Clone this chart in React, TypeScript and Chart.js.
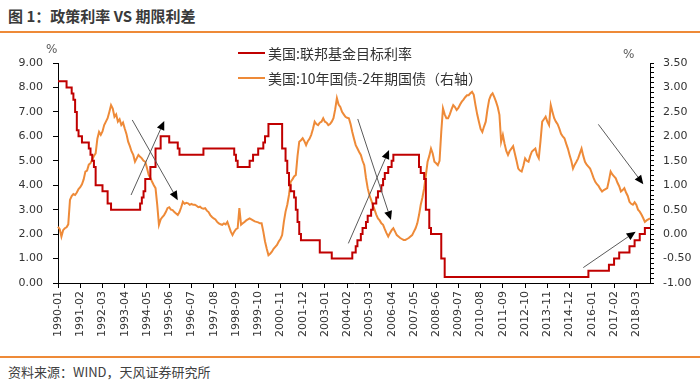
import React, { useEffect, useRef } from 'react';
import { Chart, registerables } from 'chart.js';

Chart.register(...registerables);

const titleText = '图 1：政策利率 VS 期限利差';
const sourceText = '资料来源：WIND，天风证券研究所';
const seriesNames = ['美国:联邦基金目标利率', '美国:10年国债-2年期国债（右轴）'];
const seriesColors = ['#C00000', '#EE8A38'];
const accentColor = '#EE8A38';
const startYear = 1990;
const labelStep = 13;

// US federal funds target rate (%), monthly 1990-01 .. 2018-11 (left axis)
const fedFunds = [
  8.25, 8.25, 8.25, 8.25, 8.25, 8.25, 8.0, 8.0, 8.0, 7.75, 7.5, 7.0,
  6.25, 6.0, 6.0, 5.75, 5.75, 5.75, 5.75, 5.5, 5.25, 5.0, 4.75, 4.0,
  4.0, 4.0, 4.0, 3.75, 3.75, 3.75, 3.25, 3.25, 3.0, 3.0, 3.0, 3.0,
  3.0, 3.0, 3.0, 3.0, 3.0, 3.0, 3.0, 3.0, 3.0, 3.0, 3.0, 3.0,
  3.0, 3.25, 3.5, 3.75, 4.25, 4.25, 4.25, 4.75, 4.75, 4.75, 5.5, 5.5,
  5.5, 6.0, 6.0, 6.0, 6.0, 6.0, 5.75, 5.75, 5.75, 5.75, 5.75, 5.5,
  5.25, 5.25, 5.25, 5.25, 5.25, 5.25, 5.25, 5.25, 5.25, 5.25, 5.25, 5.25,
  5.25, 5.25, 5.5, 5.5, 5.5, 5.5, 5.5, 5.5, 5.5, 5.5, 5.5, 5.5,
  5.5, 5.5, 5.5, 5.5, 5.5, 5.5, 5.5, 5.5, 5.25, 5.0, 4.75, 4.75,
  4.75, 4.75, 4.75, 4.75, 4.75, 5.0, 5.0, 5.25, 5.25, 5.25, 5.5, 5.5,
  5.5, 5.75, 6.0, 6.0, 6.5, 6.5, 6.5, 6.5, 6.5, 6.5, 6.5, 6.5,
  5.5, 5.5, 5.0, 4.5, 4.0, 3.75, 3.75, 3.5, 3.0, 2.5, 2.0, 1.75,
  1.75, 1.75, 1.75, 1.75, 1.75, 1.75, 1.75, 1.75, 1.75, 1.75, 1.25, 1.25,
  1.25, 1.25, 1.25, 1.25, 1.25, 1.0, 1.0, 1.0, 1.0, 1.0, 1.0, 1.0,
  1.0, 1.0, 1.0, 1.0, 1.0, 1.25, 1.25, 1.5, 1.75, 1.75, 2.0, 2.25,
  2.25, 2.5, 2.75, 2.75, 3.0, 3.25, 3.25, 3.5, 3.75, 3.75, 4.0, 4.25,
  4.5, 4.5, 4.75, 4.75, 5.0, 5.25, 5.25, 5.25, 5.25, 5.25, 5.25, 5.25,
  5.25, 5.25, 5.25, 5.25, 5.25, 5.25, 5.25, 5.25, 4.75, 4.5, 4.5, 4.25,
  3.0, 3.0, 2.25, 2.0, 2.0, 2.0, 2.0, 2.0, 2.0, 1.0, 1.0, 0.25,
  0.25, 0.25, 0.25, 0.25, 0.25, 0.25, 0.25, 0.25, 0.25, 0.25, 0.25, 0.25,
  0.25, 0.25, 0.25, 0.25, 0.25, 0.25, 0.25, 0.25, 0.25, 0.25, 0.25, 0.25,
  0.25, 0.25, 0.25, 0.25, 0.25, 0.25, 0.25, 0.25, 0.25, 0.25, 0.25, 0.25,
  0.25, 0.25, 0.25, 0.25, 0.25, 0.25, 0.25, 0.25, 0.25, 0.25, 0.25, 0.25,
  0.25, 0.25, 0.25, 0.25, 0.25, 0.25, 0.25, 0.25, 0.25, 0.25, 0.25, 0.25,
  0.25, 0.25, 0.25, 0.25, 0.25, 0.25, 0.25, 0.25, 0.25, 0.25, 0.25, 0.25,
  0.25, 0.25, 0.25, 0.25, 0.25, 0.25, 0.25, 0.25, 0.25, 0.25, 0.25, 0.5,
  0.5, 0.5, 0.5, 0.5, 0.5, 0.5, 0.5, 0.5, 0.5, 0.5, 0.5, 0.75,
  0.75, 0.75, 1.0, 1.0, 1.0, 1.25, 1.25, 1.25, 1.25, 1.25, 1.25, 1.5,
  1.5, 1.5, 1.75, 1.75, 1.75, 2.0, 2.0, 2.0, 2.25, 2.25, 2.25,
];

// US 10Y minus 2Y treasury yield spread (%), monthly 1990-01 .. 2018-11 (right axis)
const termSpread = [
  0.15, 0.1, -0.05, 0.08, 0.12, 0.14, 0.2, 0.7, 0.78, 0.82, 0.8, 0.85,
  0.92, 0.96, 1.02, 1.12, 1.28, 1.3, 1.42, 1.45, 1.52, 1.6, 1.65, 1.95,
  2.09, 2.03, 2.1, 2.23, 2.3, 2.37, 2.5, 2.64, 2.57, 2.4, 2.45, 2.3,
  2.35, 2.23, 2.28, 2.16, 2.05, 1.89, 1.8, 1.69, 1.62, 1.48, 1.55, 1.62,
  1.58, 1.55, 1.5, 1.48, 1.35, 1.21, 1.15, 1.07, 1.0, 0.94, 0.6, 0.19,
  0.3, 0.35, 0.39, 0.45, 0.53, 0.55, 0.5, 0.49, 0.45, 0.42, 0.39, 0.45,
  0.55, 0.66, 0.62, 0.64, 0.63, 0.6, 0.62, 0.6, 0.6, 0.58, 0.55, 0.56,
  0.53, 0.52, 0.53, 0.48, 0.45, 0.39, 0.35, 0.32, 0.3, 0.25, 0.22, 0.2,
  0.19, 0.22, 0.2, 0.25, 0.15, 0.05, -0.02, 0.05, 0.1, 0.12, 0.53, 0.19,
  0.22, 0.25, 0.28, 0.3, 0.32, 0.3, 0.28, 0.26, 0.25, 0.24, 0.22, 0.22,
  0.05, -0.15, -0.3, -0.43, -0.4, -0.36, -0.3, -0.26, -0.22, -0.15, -0.1, -0.02,
  0.25, 0.46, 0.6, 0.8, 1.07, 1.12, 1.18, 1.21, 1.6, 1.89, 1.92, 1.96,
  1.9, 1.82, 1.9, 1.95, 2.03, 2.15, 2.3, 2.25, 2.23, 2.28, 2.3, 2.37,
  2.3, 2.28, 2.23, 2.25, 2.3, 2.37, 2.55, 2.78, 2.65, 2.6, 2.5, 2.45,
  2.4, 2.38, 2.37, 2.25, 2.09, 1.95, 1.82, 1.75, 1.68, 1.62, 1.5, 1.41,
  1.15, 0.94, 0.8, 0.7, 0.6, 0.5, 0.4, 0.32, 0.28, 0.22, 0.19, 0.1,
  0.02, -0.05, 0.02, 0.08, 0.12, 0.05, -0.02, -0.05, -0.08, -0.1, -0.12, -0.12,
  -0.1, -0.08, -0.05, -0.02, 0.05, 0.12, 0.22, 0.39, 0.6, 0.75, 0.94, 1.2,
  1.48, 1.6, 1.75, 1.65, 1.48, 1.45, 1.41, 1.5, 2.09, 2.57, 2.45, 2.37,
  2.37, 2.45, 2.55, 2.64, 2.6, 2.54, 2.58, 2.65, 2.71, 2.75, 2.8, 2.84,
  2.84, 2.88, 2.91, 2.85, 2.64, 2.45, 2.3, 2.15, 2.09, 2.2, 2.3, 2.55,
  2.75, 2.84, 2.88, 2.8, 2.71, 2.6, 2.44, 1.89, 2.03, 1.85, 1.7, 1.62,
  1.7, 1.75, 1.8, 1.65, 1.5, 1.34, 1.3, 1.28, 1.4, 1.55, 1.5, 1.48,
  1.6, 1.69, 1.72, 1.75, 1.62, 1.55, 1.9, 2.3, 2.35, 2.4, 2.3, 2.23,
  2.64, 2.5, 2.37, 2.3, 2.25, 2.16, 2.05, 2.0, 1.96, 1.85, 1.75, 1.62,
  1.5, 1.34, 1.42, 1.48, 1.55, 1.65, 1.75, 1.6, 1.48, 1.42, 1.38, 1.34,
  1.25, 1.15, 1.07, 1.02, 0.98, 0.92, 0.87, 0.9, 0.92, 0.94, 1.1, 1.28,
  1.22, 1.18, 1.14, 1.05, 0.98, 0.87, 0.9, 0.94, 0.85, 0.78, 0.66, 0.62,
  0.6, 0.65, 0.6, 0.5, 0.46, 0.4, 0.33, 0.25, 0.28, 0.3, 0.32,
];

// annotation arrows: [month index, left-axis value]
const arrowTails = [[42.7, 3.6], [43.4, 6.67], [169.7, 1.62], [175.2, 6.71], [307, 0.63], [315.8, 6.49]];
const arrowHeads = [[62.1, 6.63], [70.0, 3.39], [193.5, 5.44], [194.6, 2.58], [337.6, 2.1], [342.1, 4.04]];

const monthLabels = fedFunds.map((_, i) => `${startYear + Math.floor(i / 12)}-${String((i % 12) + 1).padStart(2, '0')}`);

const tickFont = { family: '"DejaVu Sans", sans-serif', size: 11 };
const cjk = '"Noto Sans CJK SC", "Noto Sans", sans-serif';

const arrowPlugin = {
  id: 'arrows',
  afterDatasetsDraw(chart: any) {
    const { ctx } = chart;
    const xs = chart.scales.x;
    const ys = chart.scales.y;
    ctx.save();
    arrowTails.forEach((t, i) => {
      const h = arrowHeads[i];
      const x0 = xs.getPixelForValue(t[0]);
      const y0 = ys.getPixelForValue(t[1]);
      const x1 = xs.getPixelForValue(h[0]);
      const y1 = ys.getPixelForValue(h[1]);
      const ang = Math.atan2(y1 - y0, x1 - x0);
      const len = 9;
      const w = 4;
      const bx = x1 - len * Math.cos(ang);
      const by = y1 - len * Math.sin(ang);
      ctx.strokeStyle = '#5a5a5a';
      ctx.lineWidth = 1;
      ctx.beginPath();
      ctx.moveTo(x0, y0);
      ctx.lineTo(bx, by);
      ctx.stroke();
      ctx.fillStyle = '#000';
      ctx.beginPath();
      ctx.moveTo(x1, y1);
      ctx.lineTo(bx + w * Math.sin(ang), by - w * Math.cos(ang));
      ctx.lineTo(bx - w * Math.sin(ang), by + w * Math.cos(ang));
      ctx.closePath();
      ctx.fill();
    });
    ctx.restore();
  },
};

export default function App() {
  const canvasRef = useRef<HTMLCanvasElement | null>(null);

  useEffect(() => {
    if (!canvasRef.current) return;
    const chart = new Chart(canvasRef.current, {
      type: 'line',
      data: {
        labels: monthLabels,
        datasets: [
          {
            label: seriesNames[0],
            data: fedFunds,
            borderColor: seriesColors[0],
            backgroundColor: seriesColors[0],
            borderWidth: 2,
            pointRadius: 0,
            stepped: 'after',
            yAxisID: 'y',
          },
          {
            label: seriesNames[1],
            data: termSpread,
            borderColor: seriesColors[1],
            backgroundColor: seriesColors[1],
            borderWidth: 2,
            pointRadius: 0,
            tension: 0,
            yAxisID: 'y1',
          },
        ],
      },
      options: {
        animation: false,
        responsive: false,
        maintainAspectRatio: false,
        layout: { padding: { top: 23, left: 0, right: 0, bottom: 0 } },
        plugins: { legend: { display: false }, tooltip: { enabled: false } },
        scales: {
          x: {
            type: 'category',
            afterFit: (s: any) => { s.height = 67; },
            grid: {
              drawOnChartArea: false,
              tickLength: 5,
              color: (c: any) => (c.index % labelStep === 0 ? '#000' : 'rgba(0,0,0,0)'),
              tickColor: (c: any) => (c.index % labelStep === 0 ? '#000' : 'rgba(0,0,0,0)'),
            },
            border: { display: true, color: '#000', width: 1 },
            ticks: {
              autoSkip: false,
              minRotation: 90,
              maxRotation: 90,
              padding: 3,
              color: '#333',
              font: tickFont,
              callback: (_v: any, i: number) => (i % labelStep === 0 ? monthLabels[i] : ''),
            },
          },
          y: {
            position: 'left',
            min: 0,
            max: 9,
            afterFit: (s: any) => { s.width = 58; },
            grid: { drawOnChartArea: false, tickLength: 5, color: '#000' },
            border: { display: true, color: '#000', width: 1 },
            ticks: {
              stepSize: 1,
              autoSkip: false,
              padding: 10,
              color: '#333',
              font: tickFont,
              callback: (v: any) => Number(v).toFixed(2),
            },
          },
          y1: {
            position: 'right',
            min: -1,
            max: 3.5,
            afterFit: (s: any) => { s.width = 50; },
            grid: { drawOnChartArea: false, tickLength: 4, color: '#000' },
            border: { display: true, color: '#000', width: 1 },
            ticks: {
              stepSize: 0.1,
              autoSkip: false,
              padding: 9,
              color: '#333',
              font: tickFont,
              callback: (v: any) => (Math.round(Number(v) * 10) % 5 === 0 ? Number(v).toFixed(2) : ''),
            },
          },
        },
      },
      plugins: [arrowPlugin],
    } as any);
    return () => chart.destroy();
  }, []);

  return (
    <div style={{ position: 'absolute', left: 0, top: 0, width: 700, height: 385, background: '#fff', overflow: 'hidden' }}>
      <div style={{ position: 'absolute', left: 8, top: 6, height: 20, lineHeight: '20px', fontSize: 15, fontWeight: 'bold', color: '#3a3a3a', fontFamily: cjk, whiteSpace: 'nowrap' }}>
        {titleText}
      </div>
      <div style={{ position: 'absolute', left: 0, top: 31, width: 700, height: 2, background: accentColor }} />
      <canvas ref={canvasRef} width={700} height={310} style={{ position: 'absolute', left: 0, top: 40, width: 700, height: 310 }} />
      <div style={{ position: 'absolute', left: 46, top: 41, height: 16, lineHeight: '16px', fontSize: 12, color: '#595959', fontFamily: '"DejaVu Sans", sans-serif' }}>%</div>
      <div style={{ position: 'absolute', left: 623, top: 46, height: 16, lineHeight: '16px', fontSize: 12, color: '#595959', fontFamily: '"DejaVu Sans", sans-serif' }}>%</div>
      {seriesNames.map((name, i) => (
        <div key={name} style={{ position: 'absolute', left: 238, top: 43 + i * 24.6, height: 20, display: 'flex', alignItems: 'center', whiteSpace: 'nowrap' }}>
          <div style={{ width: 27, height: 2, background: seriesColors[i], marginRight: 3 }} />
          <span style={{ fontFamily: cjk, fontSize: 14, lineHeight: '20px', color: '#333' }}>{name}</span>
        </div>
      ))}
      <div style={{ position: 'absolute', left: 0, top: 356, width: 700, height: 2, background: accentColor }} />
      <div style={{ position: 'absolute', left: 8, top: 362, height: 20, lineHeight: '20px', fontSize: 13, color: '#404040', fontFamily: cjk, whiteSpace: 'nowrap' }}>
        {sourceText}
      </div>
    </div>
  );
}
